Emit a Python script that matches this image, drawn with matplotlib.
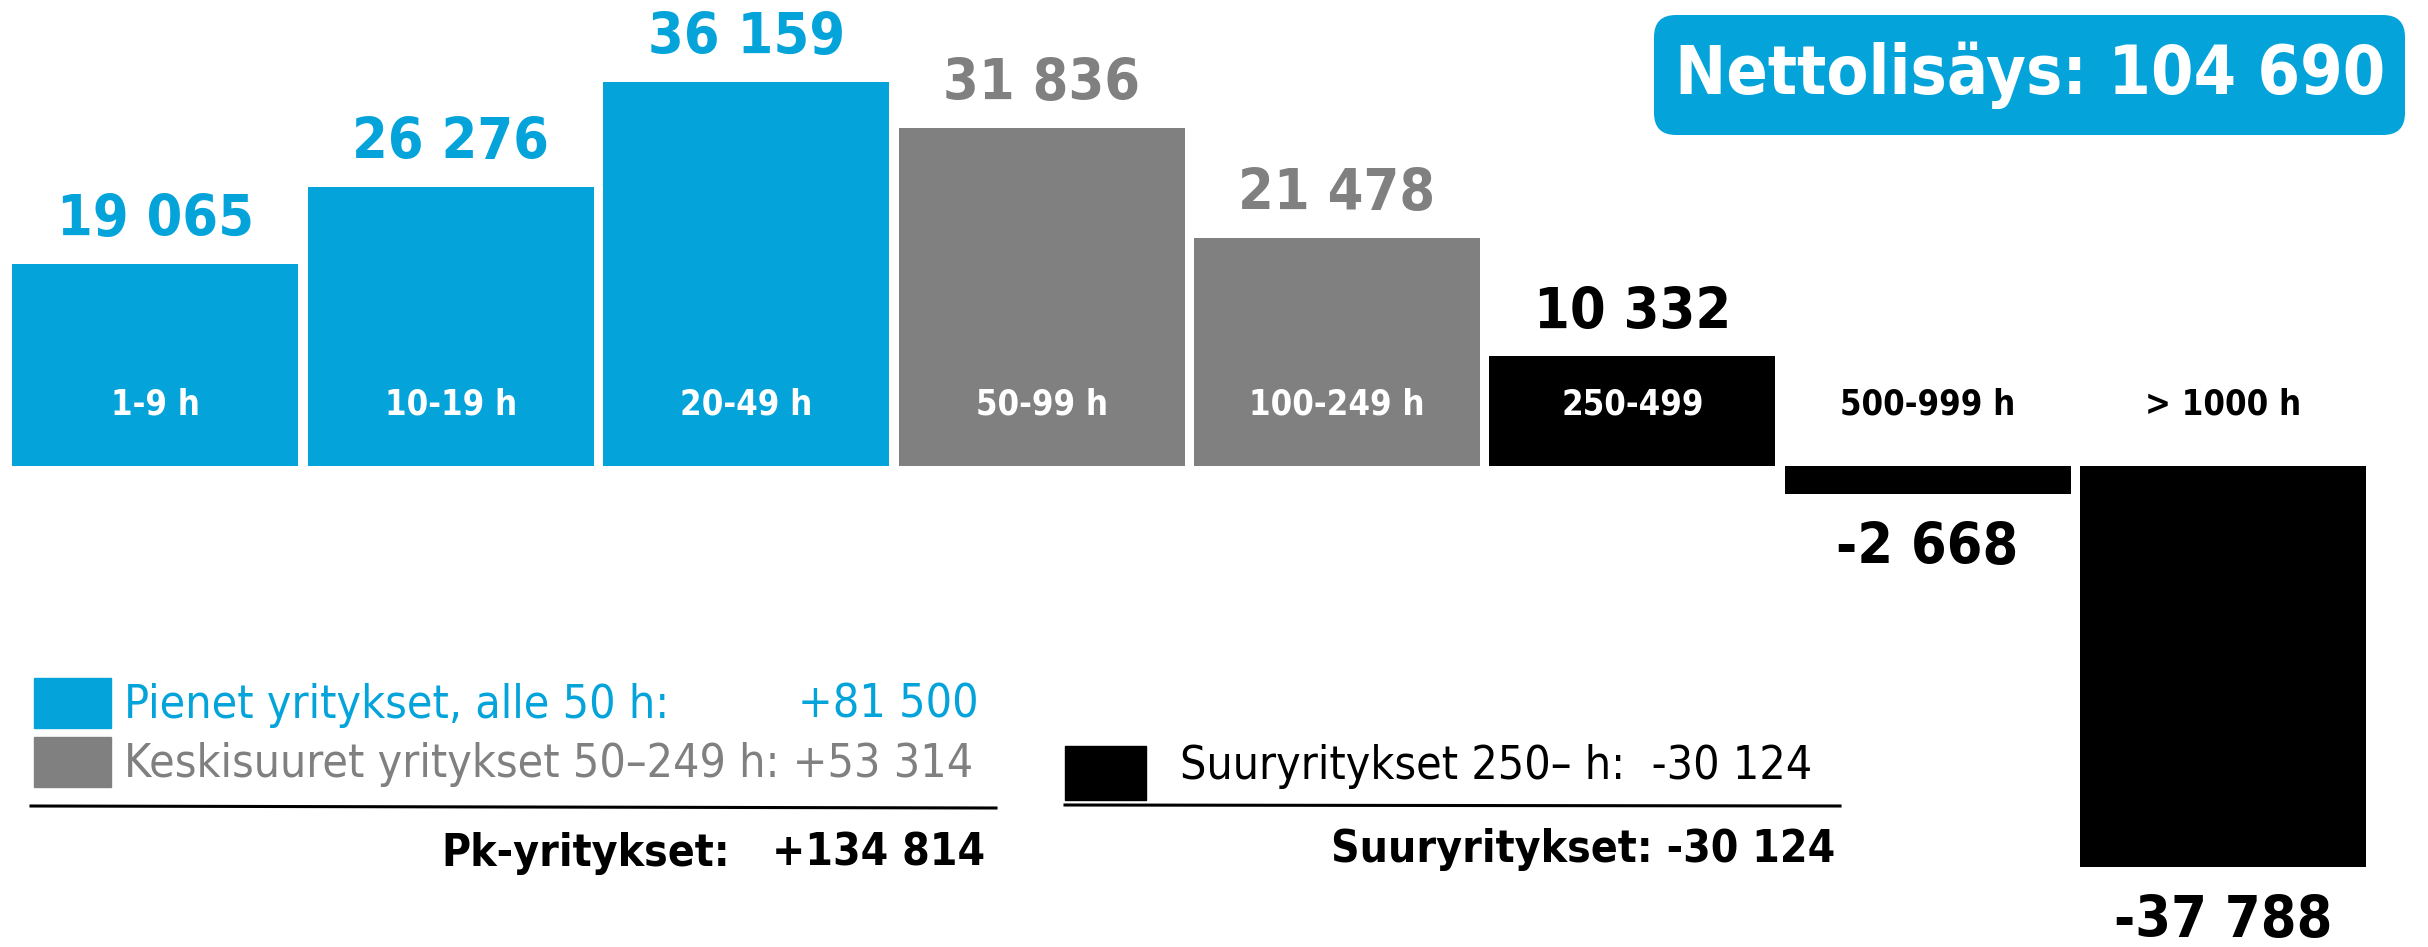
import matplotlib
matplotlib.use("Agg")
import matplotlib.pyplot as plt
from matplotlib import font_manager as fm
from matplotlib.patches import FancyBboxPatch, Rectangle
from matplotlib.transforms import IdentityTransform

categories = ["1-9 h", "10-19 h", "20-49 h", "50-99 h", "100-249 h", "250-499", "500-999 h", "> 1000 h"]
values = [19065, 26276, 36159, 31836, 21478, 10332, -2668, -37788]
groups = [0, 0, 0, 1, 1, 2, 2, 2]

BLUE = "#04a4db"
GRAY = "#808080"
BLACK = "#000000"
group_colors = [BLUE, GRAY, BLACK]
inner_text = ["white", "white", "white", "white", "white", "white", "black", "black"]

# narrow font if there is one, else Liberation Sans
has_cond = any(f.name == "DejaVu Sans" and str(f.stretch) in ("condensed", "semi-condensed")
               for f in fm.fontManager.ttflist)
if has_cond:
    plt.rcParams["font.family"] = ["DejaVu Sans"]
    plt.rcParams["font.stretch"] = "condensed"
else:
    plt.rcParams["font.family"] = ["Liberation Sans", "DejaVu Sans"]

W, H = 2428, 947


def fmt(v, sign=False):
    s = f"{abs(v):,}".replace(",", " ")
    if v < 0:
        return "-" + s
    return ("+" + s) if sign else s


def fx(x):
    return x / W


def fy(y):
    # y measured from top in pixels
    return 1 - y / H


fig = plt.figure(figsize=(W / 100, H / 100), dpi=100)
renderer = fig.canvas.get_renderer()


def fit_size(text, width, weight="normal"):
    t = fig.text(0, 0, text, fontsize=30, fontweight=weight)
    w = t.get_window_extent(renderer).width
    t.remove()
    return 30 * width / w


VAL_FS = fit_size("19 065", 197, "bold")
CAT_FS = fit_size("100-249 h", 175, "bold")
NET_FS = fit_size("Nettolisäys: 104 690", 709, "bold")
LEG_FS = fit_size("Keskisuuret yritykset 50\u2013249 h: +53 314", 847)
TOT_FS = fit_size("Suuryritykset: -30 124", 503, "bold")

ax = fig.add_axes([0.0032, 0, 0.9732, 1])
ax.set_xlim(-0.5, len(values) - 0.5)
ax.set_ylim(-45290, 43880)
ax.axis("off")

colors = [group_colors[g] for g in groups]
ax.bar(range(len(values)), values, width=0.968, color=colors)

for i, v in enumerate(values):
    off = 31 if v > 0 else -39
    ax.annotate(fmt(v), (i, v), xytext=(0, off), textcoords="offset points",
                ha="center", va="center", fontsize=VAL_FS, fontweight="bold",
                color=colors[i])
    ax.annotate(categories[i], (i, 0), xytext=(0, 44), textcoords="offset points",
                ha="center", va="center", fontsize=CAT_FS, fontweight="bold",
                color=inner_text[i])

# totals
small = sum(v for v, g in zip(values, groups) if g == 0)
medium = sum(v for v, g in zip(values, groups) if g == 1)
large = sum(v for v, g in zip(values, groups) if g == 2)
pk = small + medium
net = pk + large

# net box
box = FancyBboxPatch((1654, H - 135), 751, 120, boxstyle="round,pad=0,rounding_size=22",
                     transform=IdentityTransform(), facecolor=BLUE, edgecolor="none")
fig.patches.append(box)
fig.text(fx(2030), fy(75), f"Nettolisäys: {fmt(net)}", ha="center", va="center",
         fontsize=NET_FS, fontweight="bold", color="white")

# legend left
fig.patches.append(Rectangle((fx(34), fy(728)), fx(111) - fx(34), fy(678) - fy(728),
                             transform=fig.transFigure, color=BLUE))
fig.patches.append(Rectangle((fx(34), fy(787)), fx(111) - fx(34), fy(737) - fy(787),
                             transform=fig.transFigure, color=GRAY))
fig.text(fx(124), fy(705), "Pienet yritykset, alle 50 h:", ha="left", va="center",
         fontsize=LEG_FS, color=BLUE)
fig.text(fx(979), fy(705), fmt(small, True), ha="right", va="center",
         fontsize=LEG_FS, color=BLUE)
fig.text(fx(124), fy(764), f"Keskisuuret yritykset 50\u2013249 h: {fmt(medium, True)}",
         ha="left", va="center", fontsize=LEG_FS, color=GRAY)
fig.add_artist(plt.Line2D([fx(31), fx(996)], [fy(806), fy(808)], color="black", lw=2.2,
                          transform=fig.transFigure))
fig.text(fx(441), fy(853), "Pk-yritykset:", ha="left", va="center",
         fontsize=TOT_FS, fontweight="bold", color="black")
fig.text(fx(985), fy(853), fmt(pk, True), ha="right", va="center",
         fontsize=TOT_FS, fontweight="bold", color="black")

# legend right
fig.patches.append(Rectangle((fx(1065), fy(800)), fx(1146) - fx(1065), fy(746) - fy(800),
                             transform=fig.transFigure, color=BLACK))
fig.text(fx(1180), fy(766), f"Suuryritykset 250\u2013 h:  {fmt(large)}", ha="left",
         va="center", fontsize=LEG_FS, color="black")
fig.add_artist(plt.Line2D([fx(1065), fx(1840)], [fy(805), fy(806)], color="black", lw=2.2,
                          transform=fig.transFigure))
fig.text(fx(1835), fy(849), f"Suuryritykset: {fmt(large)}", ha="right", va="center",
         fontsize=TOT_FS, fontweight="bold", color="black")

fig.savefig("out.png", dpi=100)
